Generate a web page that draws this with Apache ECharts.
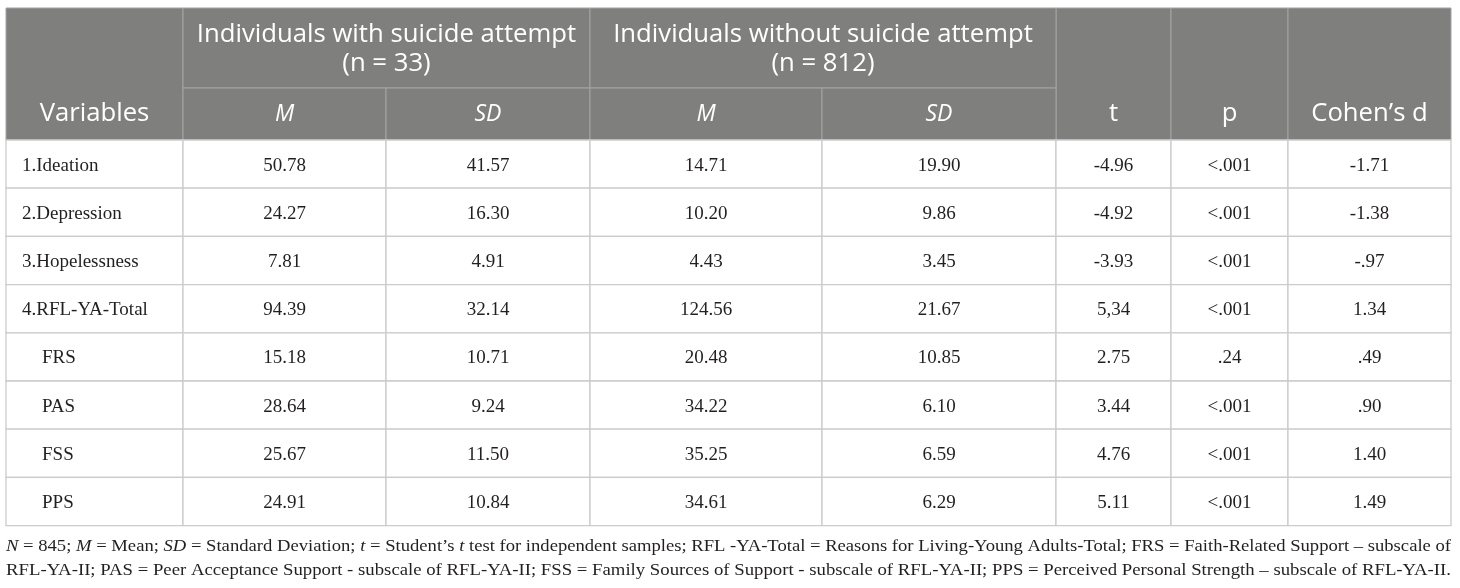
<!DOCTYPE html>
<html><head><meta charset="utf-8">
<script src="https://cdn.jsdelivr.net/npm/echarts@6/dist/echarts.min.js"></script>
<style>html,body{margin:0;padding:0;background:#fff}#c{width:1460px;height:588px}</style>
</head><body><div id="c"></div>
<script>
// ---- data ----
const variables   = ['1.Ideation','2.Depression','3.Hopelessness','4.RFL-YA-Total','FRS','PAS','FSS','PPS'];
const meanWith    = ['50.78','24.27','7.81','94.39','15.18','28.64','25.67','24.91'];
const sdWith      = ['41.57','16.30','4.91','32.14','10.71','9.24','11.50','10.84'];
const meanWithout = ['14.71','10.20','4.43','124.56','20.48','34.22','35.25','34.61'];
const sdWithout   = ['19.90','9.86','3.45','21.67','10.85','6.10','6.59','6.29'];
const tValues     = ['-4.96','-4.92','-3.93','5,34','2.75','3.44','4.76','5.11'];
const pValues     = ['<.001','<.001','<.001','<.001','.24','<.001','<.001','<.001'];
const cohenD      = ['-1.71','-1.38','-.97','1.34','.49','.90','1.40','1.49'];
const groupHeaders = ['Individuals with suicide attempt\n(n = 33)','Individuals without suicide attempt\n(n = 812)'];
const subHeaders   = ['M','SD','M','SD'];
const sideHeaders  = ['Variables','t','p','Cohen\u2019s d'];
const footLine1 = [['i','N'],['n',' = 845; '],['i','M'],['n',' = Mean; '],['i','SD'],['n',' = Standard Deviation; '],['i','t'],['n',' = Student\u2019s '],['i','t'],['n',' test for independent samples; RFL -YA-Total = Reasons for Living-Young Adults-Total; FRS = Faith-Related Support \u2013 subscale of']];
const footLine2 = [['n','RFL-YA-II; PAS = Peer Acceptance Support - subscale of RFL-YA-II; FSS = Family Sources of Support - subscale of RFL-YA-II; PPS = Perceived Personal Strength \u2013 subscale of RFL-YA-II.']];

// ---- layout ----
const L = 6, W = 1445, TOP = 8, MID = 88, HB = 140, BOT = 525.6;
const colEdges = [0,177,380,584,816,1050,1165,1282,1445];
const HEAD_BG = '#7f807e', HEAD_LINE = '#a3a3a3', BODY_LINE = '#cccccc';
const HFONT = '"Open Sans", "Noto Sans", sans-serif';
const BFONT = '"Liberation Serif", "DejaVu Serif", serif';
const FOOT_SIZE = 17.5;
const BODY_SIZE = 19;

const cols = [meanWith, sdWith, meanWithout, sdWithout, tValues, pValues, cohenD];
const X = i => L + colEdges[i];

const chart = echarts.init(document.getElementById('c'), null, {renderer:'canvas'});

// header graphics
const g = [];
function hcell(x0,x1,y0,y1){
  g.push({type:'rect', shape:{x:x0,y:y0,width:x1-x0,height:y1-y0}, style:{fill:HEAD_BG, stroke:HEAD_LINE, lineWidth:1}, z:1});
}
function htext(x,y,text,opt){
  g.push({type:'text', x:x, y:y, z:2, style:Object.assign({text:text, fill:'#fff', font:'25.7px '+HFONT, align:'center', verticalAlign:'middle', lineHeight:29}, opt||{})});
}
const sideCols = [[0,1],[5,6],[6,7],[7,8]];
sideCols.forEach((c,k)=>{ hcell(X(c[0]),X(c[1]),TOP,HB); htext((X(c[0])+X(c[1]))/2, 114, sideHeaders[k]); });
[[1,3],[3,5]].forEach((c,k)=>{ hcell(X(c[0]),X(c[1]),TOP,MID); htext((X(c[0])+X(c[1]))/2, 49, groupHeaders[k]); });
for(let k=0;k<4;k++){ hcell(X(k+1),X(k+2),MID,HB); htext((X(k+1)+X(k+2))/2,114,subHeaders[k],{font:'italic 23px '+HFONT}); }

// footnote, scaled to justify
const mc = document.createElement('canvas').getContext('2d');
function fontFor(t){ return (t==='i'?'italic ':'')+FOOT_SIZE+'px '+BFONT; }
function footnote(parts,y){
  let w=0, txt='';
  parts.forEach(p=>{ mc.font=fontFor(p[0]); w+=mc.measureText(p[1]).width; txt+='{'+p[0]+'|'+p[1]+'}'; });
  g.push({type:'text', x:L, y:y, scaleX:W/w, z:2, style:{text:txt, verticalAlign:'middle', align:'left',
    rich:{ i:{font:fontFor('i'), fill:'#231f20'}, n:{font:fontFor('n'), fill:'#231f20'} }}});
}
footnote(footLine1, 546.5);
footnote(footLine2, 570.5);

chart.setOption({
  backgroundColor:'#fff',
  animation:false,
  grid:{left:L, width:W, top:HB, height:BOT-HB, containLabel:false},
  xAxis:{type:'value', min:0, max:W, show:false},
  yAxis:{type:'category', data:variables, inverse:true, show:false},
  graphic:g,
  series:[{
    type:'custom',
    data: variables.map((v,i)=>[0,i]),
    encode:{x:0,y:1},
    renderItem:function(params,api){
      const r = params.dataIndex;
      const c = api.coord([0,r]);
      const h = api.size([0,1])[1];
      const y0 = c[1]-h/2;
      const ch = [];
      for(let k=0;k<8;k++){
        const xa = api.coord([colEdges[k],r])[0];
        const xb = api.coord([colEdges[k+1],r])[0];
        ch.push({type:'rect', shape:{x:xa,y:y0,width:xb-xa,height:h}, style:{fill:'#fff', stroke:BODY_LINE, lineWidth:1.3}});
        let text, x, align;
        if(k===0){
          text = variables[r];
          align='left';
          x = xa + (/^\d/.test(text) ? 16 : 36);
        } else {
          text = cols[k-1][r];
          align='center';
          x = (xa+xb)/2;
        }
        ch.push({type:'text', x:x, y:c[1]+1.5, z2:5, style:{text:text, font:BODY_SIZE+'px '+BFONT, fill:'#231f20', align:align, verticalAlign:'middle'}});
      }
      return {type:'group', children:ch};
    }
  }]
});
</script></body></html>
